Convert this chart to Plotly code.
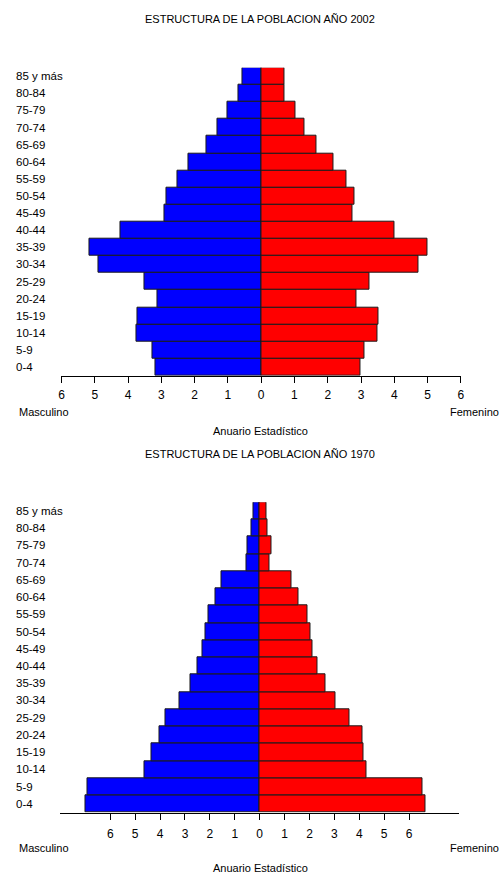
import plotly.graph_objects as go

age_groups = ["0-4", "5-9", "10-14", "15-19", "20-24", "25-29", "30-34", "35-39",
              "40-44", "45-49", "50-54", "55-59", "60-64", "65-69", "70-74",
              "75-79", "80-84", "85 y más"]

male_2002 = [3.19, 3.26, 3.75, 3.72, 3.11, 3.51, 4.89, 5.17, 4.22, 2.92, 2.86, 2.52,
             2.17, 1.65, 1.31, 1.01, 0.67, 0.55]
female_2002 = [2.97, 3.09, 3.50, 3.51, 2.87, 3.24, 4.72, 5.00, 4.01, 2.74, 2.81, 2.55,
               2.16, 1.67, 1.30, 1.03, 0.71, 0.69]

male_1970 = [6.99, 6.90, 4.61, 4.36, 4.03, 3.78, 3.21, 2.76, 2.48, 2.28, 2.19, 2.07,
             1.78, 1.54, 0.55, 0.50, 0.34, 0.25]
female_1970 = [6.67, 6.54, 4.29, 4.18, 4.13, 3.59, 3.06, 2.64, 2.31, 2.12, 2.05, 1.91,
               1.54, 1.26, 0.39, 0.47, 0.32, 0.28]

titles = ["ESTRUCTURA DE LA POBLACION AÑO 2002", "ESTRUCTURA DE LA POBLACION AÑO 1970"]
tick_values = [-6, -5, -4, -3, -2, -1, 0, 1, 2, 3, 4, 5, 6]
tick_labels = ["6", "5", "4", "3", "2", "1", "0", "1", "2", "3", "4", "5", "6"]
x_ranges = [[-6, 6], [-8, 8]]

W, H = 504, 874
FONT = "Liberation Sans, Arial, sans-serif"
FS = 11
BLUE = "#0000FF"
RED = "#FF0000"
EDGE = "#1a1a1a"

def fx(px):
    return px / W

def fy(py):
    return 1 - py / H

fig = go.Figure()

panels = [
    dict(male=male_2002, female=female_2002, xa="x", ya="y", xaxis="xaxis", yaxis="yaxis",
         dom_x=[fx(59.3), fx(464.3)], dom_y=[fy(375.7), fy(67.7)],
         title_y=19, lab_y=411.5, src_y=430.7, standoff=2),
    dict(male=male_1970, female=female_1970, xa="x2", ya="y2", xaxis="xaxis2", yaxis="yaxis2",
         dom_x=[fx(58.3), fx(462.3)], dom_y=[fy(812.5), fy(502.3)],
         title_y=454.3, lab_y=848.3, src_y=868.3, standoff=4),
]

for i, p in enumerate(panels):
    fig.add_trace(go.Bar(y=age_groups, x=[-v for v in p["male"]], orientation="h",
                         marker=dict(color=BLUE, line=dict(color=EDGE, width=1)),
                         xaxis=p["xa"], yaxis=p["ya"], showlegend=False, hoverinfo="skip"))
    fig.add_trace(go.Bar(y=age_groups, x=p["female"], orientation="h",
                         marker=dict(color=RED, line=dict(color=EDGE, width=1)),
                         xaxis=p["xa"], yaxis=p["ya"], showlegend=False, hoverinfo="skip"))
    fig.layout[p["xaxis"]] = dict(
        domain=p["dom_x"], range=x_ranges[i], anchor=p["ya"],
        tickvals=tick_values, ticktext=tick_labels, ticks="outside", ticklen=6,
        tickcolor="black", tickwidth=1, showline=True, linecolor="black", linewidth=1,
        showgrid=False, zeroline=False, fixedrange=True, ticklabelstandoff=p["standoff"],
        tickfont=dict(family=FONT, size=FS + 1, color="black"))
    fig.layout[p["yaxis"]] = dict(
        domain=p["dom_y"], type="category", categoryorder="array", categoryarray=age_groups,
        range=[-0.5, 17.5], showticklabels=False, showline=False, showgrid=False,
        zeroline=False, ticks="", anchor=p["xa"], fixedrange=True)
    for g in age_groups:
        fig.add_annotation(xref="paper", yref=p["ya"], x=fx(11.5), y=g, text=g,
                           xanchor="left", yanchor="middle", showarrow=False,
                           font=dict(family=FONT, size=FS + 0.5, color="black"))
    fig.add_annotation(xref="paper", yref="paper", x=fx(260.5), y=fy(p["title_y"]),
                       text=titles[i], xanchor="center", yanchor="middle", showarrow=False,
                       font=dict(family=FONT, size=FS, color="black"))
    fig.add_annotation(xref="paper", yref="paper", x=fx(14), y=fy(p["lab_y"]),
                       text="Masculino", xanchor="left", yanchor="middle", showarrow=False,
                       font=dict(family=FONT, size=FS, color="black"))
    fig.add_annotation(xref="paper", yref="paper", x=fx(505), y=fy(p["lab_y"]),
                       text="Femenino", xanchor="right", yanchor="middle", showarrow=False,
                       font=dict(family=FONT, size=FS, color="black"))
    fig.add_annotation(xref="paper", yref="paper", x=fx(261.5), y=fy(p["src_y"]),
                       text="Anuario Estadístico", xanchor="center", yanchor="middle",
                       showarrow=False, font=dict(family=FONT, size=FS, color="black"))

fig.update_layout(width=W, height=H, margin=dict(l=0, r=0, t=0, b=0),
                  barmode="relative", bargap=0, paper_bgcolor="white",
                  plot_bgcolor="white", font=dict(family=FONT, size=FS, color="black"))

fig.write_html("out.html", config={"displayModeBar": False},
               post_script="document.body.style.margin='0';"
                           "document.documentElement.style.overflow='hidden';")
